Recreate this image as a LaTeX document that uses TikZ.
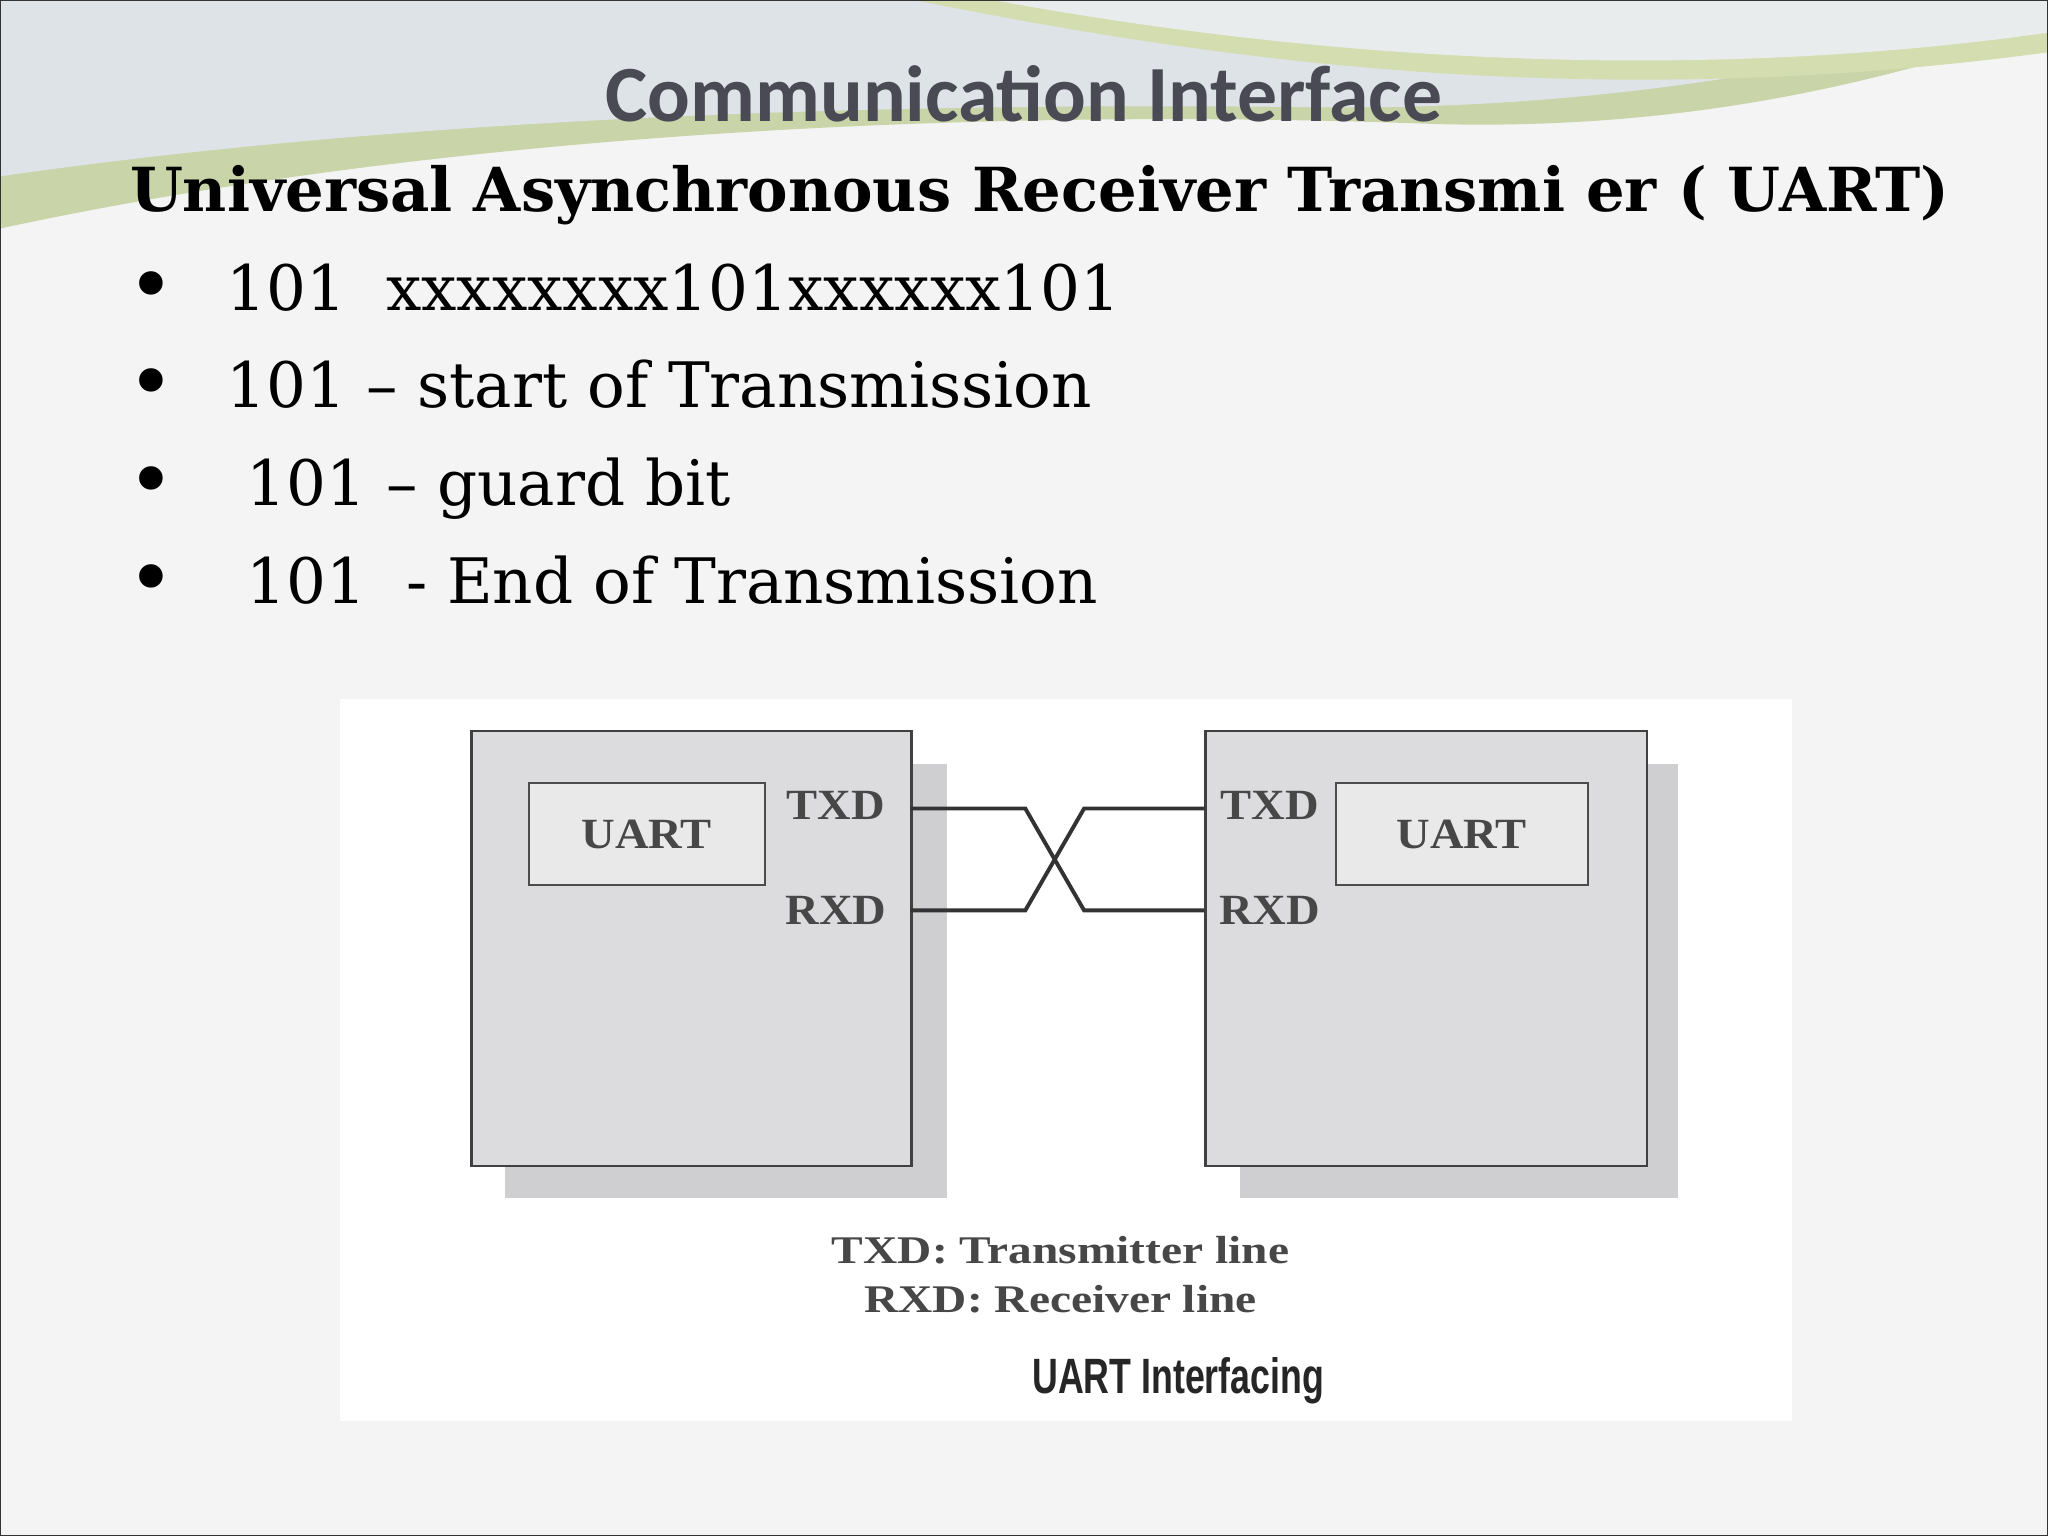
\documentclass[tikz,border=0pt]{standalone}
\usepackage{fontspec}
\setmainfont{DejaVu Serif}
\newfontfamily\titlefont{Carlito}
\newfontfamily\imgfont{Liberation Serif}
\newfontfamily\capfont{Liberation Sans}
\definecolor{bg}{HTML}{F4F4F4}
\definecolor{boxfill}{HTML}{DCDCDE}
\definecolor{shadowc}{HTML}{CFCFD2}
\definecolor{innerc}{HTML}{E9E9E9}
\definecolor{titlec}{HTML}{4A4A55}
\definecolor{labc}{HTML}{474747}
\definecolor{sw1}{HTML}{C9D4A8}
\definecolor{sw2}{HTML}{DDE3E6}
\definecolor{sw3}{HTML}{D3DDB0}
\definecolor{sw4}{HTML}{E9ECEC}
\begin{document}
\begin{tikzpicture}[x=1pt,y=-1pt,
  bigbox/.style={draw=black!75,line width=1.8pt,fill=boxfill},
  innerbox/.style={draw=black!70,line width=1.5pt,fill=innerc},
  lab/.style={font=\imgfont\bfseries\fontsize{33}{36}\selectfont,text=labc,xscale=1.08},
  wire/.style={draw=black!80,line width=3pt},
  bul/.style={anchor=base west,font=\fontsize{48}{56}\selectfont}]
\useasboundingbox (0,0) rectangle (1568,1176);
\fill[bg] (0,0) rectangle (1568,1176);
% top swoosh
\fill[sw1] (0,0) -- (0,175) .. controls (300,110) and (700,80) .. (1100,95) .. controls (1300,100) and (1450,60) .. (1568,20) -- (1568,0) -- cycle;
\fill[sw2] (0,0) -- (0,135) .. controls (300,92) and (650,78) .. (1000,82) .. controls (1250,86) and (1450,40) .. (1568,5) -- (1568,0) -- cycle;
\fill[sw3] (700,0) .. controls (900,40) and (1200,90) .. (1568,40) -- (1568,0) -- cycle;
\fill[sw4] (760,0) .. controls (950,35) and (1250,70) .. (1568,25) -- (1568,0) -- cycle;
\draw[black!80,line width=1pt] (0.5,0.5) rectangle (1567.5,1175.5);
\node[font=\titlefont\bfseries\fontsize{61}{64}\selectfont,text=titlec] (title) at (784,72) {Communication Interface};
\node[anchor=base west,font=\bfseries\fontsize{46.5}{52}\selectfont,xscale=1.0] (head) at (96,162) {Universal Asynchronous Receiver Transmi er ( UART)};
\foreach \yy/\tx [count=\i] in {238/{101\ \ xxxxxxxx101xxxxxx101},312/{101 – start of Transmission},387/{\ 101 – guard bit},462/{\ 101\ \ - End of Transmission}}{
  \node[bul,font=\fontsize{62}{60}\selectfont] (b\i) at (94,\yy+2) {•};
  \node[bul] (t\i) at (170,\yy) {\tx};
}
% image area
\fill[white] (260,535) rectangle (1372,1088);
\fill[shadowc] (387,585) rectangle (725,917);
\fill[shadowc] (949,585) rectangle (1285,917);
\node[bigbox,minimum width=337pt,minimum height=333pt,anchor=north west,inner sep=0] (L) at (360,559) {};
\node[bigbox,minimum width=338pt,minimum height=333pt,anchor=north west,inner sep=0] (R) at (922,559) {};
\node[innerbox,minimum width=181pt,minimum height=78pt,anchor=north west,inner sep=0] (LU) at (404,599) {};
\node[innerbox,minimum width=193pt,minimum height=78pt,anchor=north west,inner sep=0] (RU) at (1022,599) {};
\node[lab] at (LU.center) {UART};
\node[lab] at (RU.center) {UART};
\node[lab] (ltx) at (640,617) {TXD};
\node[lab] (lrx) at (640,697) {RXD};
\node[lab] (rtx) at (972,617) {TXD};
\node[lab] (rrx) at (972,697) {RXD};
\coordinate (a1) at (697,619); \coordinate (a2) at (697,697);
\coordinate (c1) at (922,619); \coordinate (c2) at (922,697);
\draw[wire] (a1) -- (785,619) -- (830,697) -- (c2);
\draw[wire] (a2) -- (785,697) -- (830,619) -- (c1);
\node[lab,font=\imgfont\bfseries\fontsize{30}{34}\selectfont,xscale=1.12] (cap1) at (812,957) {TXD: Transmitter line};
\node[lab,font=\imgfont\bfseries\fontsize{30}{34}\selectfont,xscale=1.12] (cap2) at (812,995) {RXD: Receiver line};
\node[font=\capfont\bfseries\fontsize{38}{40}\selectfont,xscale=0.72,text=black!85] (ui) at (902,1057) {UART Interfacing};
\end{tikzpicture}
\end{document}
